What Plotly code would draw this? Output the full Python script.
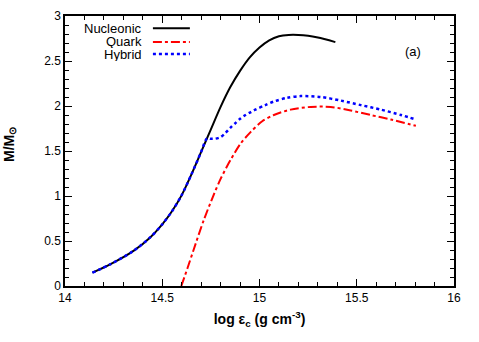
import plotly.graph_objects as go

# Nucleonic
nuc_x = [14.141, 14.232, 14.352, 14.438, 14.50, 14.55, 14.60, 14.65, 14.70, 14.75, 14.80, 14.85, 14.90,
         14.95, 15.00, 15.05, 15.10, 15.15, 15.20, 15.25, 15.30, 15.39]
nuc_y = [0.148, 0.24, 0.39, 0.54, 0.685, 0.83, 1.01, 1.24, 1.49, 1.74, 1.99, 2.21, 2.39,
         2.54, 2.65, 2.73, 2.775, 2.79, 2.79, 2.78, 2.76, 2.71]

# Quark
qrk_x = [14.598, 14.63, 14.661, 14.713, 14.764, 14.80, 14.851, 14.902, 14.954, 15.014, 15.074, 15.16, 15.263,
         15.366, 15.469, 15.572, 15.675, 15.804]
qrk_y = [0.0, 0.20, 0.40, 0.73, 1.01, 1.19, 1.40, 1.58, 1.71, 1.83, 1.90, 1.96, 1.99,
         1.99, 1.95, 1.90, 1.85, 1.78]

# Hybrid
hyb_x = [14.141, 14.232, 14.352, 14.438, 14.50, 14.55, 14.60, 14.65, 14.70, 14.73, 14.75, 14.773, 14.80,
         14.825, 14.851, 14.876, 14.902, 14.928, 14.954, 14.979, 15.03, 15.074, 15.14, 15.211, 15.314,
         15.418, 15.521, 15.624, 15.727, 15.804]
hyb_y = [0.148, 0.24, 0.39, 0.54, 0.685, 0.83, 1.01, 1.24, 1.49, 1.64, 1.635, 1.637, 1.655,
         1.70, 1.76, 1.81, 1.86, 1.90, 1.93, 1.96, 2.01, 2.05, 2.09, 2.11, 2.10,
         2.06, 2.01, 1.96, 1.90, 1.85]

series_names = ["Nucleonic", "Quark", "Hybrid"]
x_ticks = [14, 14.5, 15, 15.5, 16]
y_ticks = [0, 0.5, 1, 1.5, 2, 2.5, 3]

FONT = "Liberation Sans, Arial, sans-serif"
fig = go.Figure()
styles = [
    dict(color="black", width=2, dash="solid"),
    dict(color="red", width=2, dash="dashdot"),
    dict(color="blue", width=2.5, dash="dot"),
]
data = [(nuc_x, nuc_y), (qrk_x, qrk_y), (hyb_x, hyb_y)]
for i in [0, 1, 2]:
    xs, ys = data[i]
    fig.add_trace(go.Scatter(x=xs, y=ys, mode="lines", line=dict(shape="spline", smoothing=0.8, **styles[i]),
                             name=series_names[i], showlegend=False, hoverinfo="skip"))

# manual legend (text right aligned, sample to the right)
leg_y = [0.955, 0.904, 0.859]
for i, name in enumerate(series_names):
    fig.add_annotation(x=0.201, y=leg_y[i], xref="paper", yref="paper", text=name, showarrow=False,
                       xanchor="right", yanchor="middle", height=13, borderpad=0,
                       font=dict(family=FONT, size=13, color="black"))
    fig.add_shape(type="line", xref="paper", yref="paper", x0=0.226, x1=0.321, y0=leg_y[i], y1=leg_y[i],
                  line=styles[i])

fig.add_annotation(x=0.92, y=0.905, xref="paper", yref="paper", text="(a)", showarrow=False,
                   font=dict(family=FONT, size=13, color="black"))

# y-axis title as rotated annotation
fig.add_annotation(x=-0.142, y=0.525, xref="paper", yref="paper", text="<b>M/M<sub>⊙</sub></b>",
                   showarrow=False, textangle=-90, xanchor="center", yanchor="middle",
                   font=dict(family=FONT, size=14, color="black"))

axis_common = dict(showline=True, linecolor="black", linewidth=1.5, mirror="ticks", ticks="inside",
                   ticklen=7, tickwidth=1, tickcolor="black", showgrid=False, zeroline=False,
                   tickfont=dict(family=FONT, size=12, color="black"))
fig.update_xaxes(range=[14, 16], tickvals=x_ticks, ticktext=[str(t) for t in x_ticks],
                 minor=dict(dtick=0.1, ticks="inside", ticklen=4, tickcolor="black", showgrid=False),
                 title=dict(text="<b>log ε<sub>c</sub> (g cm<sup>-3</sup>)</b>", font=dict(family=FONT, size=14, color="black"),
                            standoff=10), **axis_common)
fig.update_yaxes(range=[0, 3], tickvals=y_ticks, ticktext=[("%g" % t) for t in y_ticks],
                 minor=dict(dtick=0.1, ticks="inside", ticklen=4, tickcolor="black", showgrid=False),
                 automargin=False, **axis_common)

fig.update_layout(width=479, height=342, margin=dict(l=65, r=25, t=16, b=56),
                  plot_bgcolor="white", paper_bgcolor="white")

fig.write_html("out.html", config={"displayModeBar": False},
               post_script="document.body.style.margin='0px';")
